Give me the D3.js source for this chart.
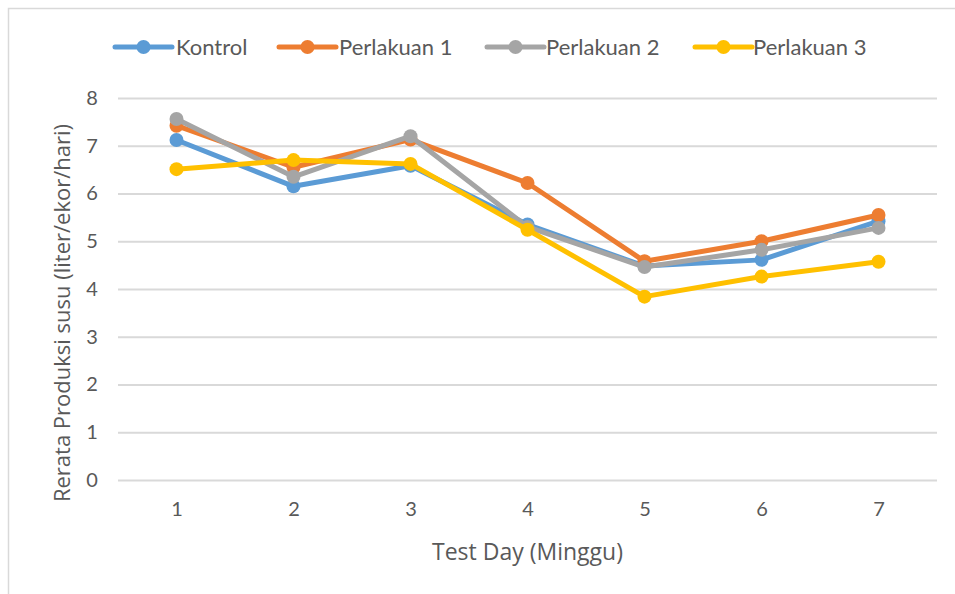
<!DOCTYPE html>
<html>
<head>
<meta charset="utf-8">
<script src="https://cdn.jsdelivr.net/npm/d3@7"></script>
<style>
  html, body { margin: 0; padding: 0; background: #fff; }
  svg { display: block; }
</style>
</head>
<body>
<svg id="chart" width="955" height="594"></svg>
<script>
const categories = ["1", "2", "3", "4", "5", "6", "7"];
const seriesNames = ["Kontrol", "Perlakuan 1", "Perlakuan 2", "Perlakuan 3"];
const kontrol    = [7.12, 6.15, 6.58, 5.35, 4.48, 4.61, 5.42];
const perlakuan1 = [7.42, 6.55, 7.13, 6.22, 4.58, 5.00, 5.55];
const perlakuan2 = [7.56, 6.35, 7.20, 5.30, 4.46, 4.82, 5.28];
const perlakuan3 = [6.51, 6.70, 6.62, 5.24, 3.84, 4.26, 4.57];
const yTicks = [0, 1, 2, 3, 4, 5, 6, 7, 8];
const colors = ["#5B9BD5", "#ED7D31", "#A5A5A5", "#FFC000"];
const yTitle = "Rerata Produksi susu (liter/ekor/hari)";
const xTitle = "Test Day (Minggu)";

const data = [kontrol, perlakuan1, perlakuan2, perlakuan3];

const svg = d3.select("#chart");
const W = 955, H = 594;
const plot = { left: 118, right: 937, top: 98, bottom: 480 };
const textColor = "#595959";
const tickFont = "Lato, 'Open Sans', sans-serif";

// frame
svg.append("path")
  .attr("d", `M8.5,${H} L8.5,8.5 L${W},8.5`)
  .attr("fill", "none")
  .attr("stroke", "#d9d9d9")
  .attr("stroke-width", 1.5);

const x = d3.scalePoint().domain(categories).range([plot.left, plot.right]).padding(0.5);
const y = d3.scaleLinear().domain([0, 8]).range([plot.bottom, plot.top]);

// gridlines via axis
const yAxis = d3.axisLeft(y).tickValues(yTicks).tickSize(-(plot.right - plot.left)).tickPadding(18).tickFormat(d3.format("d"));
const gy = svg.append("g").attr("transform", `translate(${plot.left},0)`).call(yAxis);
gy.select(".domain").remove();
gy.selectAll(".tick line").attr("stroke", "#d9d9d9").attr("stroke-width", 2);
gy.selectAll(".tick text").attr("fill", textColor).attr("font-family", tickFont).attr("font-size", 20).attr("text-anchor", "middle").attr("x", -26);

const xAxis = d3.axisBottom(x).tickSize(0).tickPadding(22);
const gx = svg.append("g").attr("transform", `translate(0,${plot.bottom})`).call(xAxis);
gx.select(".domain").remove();
gx.selectAll(".tick text").attr("fill", textColor).attr("font-family", tickFont).attr("font-size", 20);

// axis titles
svg.append("text")
  .attr("transform", `translate(70,313) rotate(-90)`)
  .attr("text-anchor", "middle")
  .attr("fill", textColor)
  .attr("font-family", "'Open Sans', sans-serif")
  .attr("font-size", 22)
  .text(yTitle);

svg.append("text")
  .attr("x", (plot.left + plot.right) / 2)
  .attr("y", 560)
  .attr("text-anchor", "middle")
  .attr("fill", textColor)
  .attr("font-family", "'Open Sans', sans-serif")
  .attr("font-size", 23)
  .text(xTitle);

// lines
const line = d3.line().x((d, i) => x(categories[i])).y(d => y(d));
data.forEach((vals, s) => {
  const g = svg.append("g");
  g.append("path")
    .attr("d", line(vals))
    .attr("fill", "none")
    .attr("stroke", colors[s])
    .attr("stroke-width", 5)
    .attr("stroke-linejoin", "round");
  g.selectAll("circle").data(vals).join("circle")
    .attr("cx", (d, i) => x(categories[i]))
    .attr("cy", d => y(d))
    .attr("r", 7)
    .attr("fill", colors[s]);
});

// legend
const legendItems = [
  { name: seriesNames[0], lx: 115, tx: 176 },
  { name: seriesNames[1], lx: 279, tx: 339 },
  { name: seriesNames[2], lx: 487, tx: 546 },
  { name: seriesNames[3], lx: 695, tx: 753 }
];
const ly = 47;
legendItems.forEach((it, i) => {
  const g = svg.append("g");
  g.append("line")
    .attr("x1", it.lx).attr("x2", it.lx + 57)
    .attr("y1", ly).attr("y2", ly)
    .attr("stroke", colors[i]).attr("stroke-width", 5).attr("stroke-linecap", "round");
  g.append("circle").attr("cx", it.lx + 28.5).attr("cy", ly).attr("r", 7).attr("fill", colors[i]);
  g.append("text")
    .attr("x", it.tx).attr("y", ly).attr("dy", "0.35em")
    .attr("fill", textColor)
    .attr("font-family", tickFont)
    .attr("font-size", 22)
    .text(it.name);
});
</script>
</body>
</html>
